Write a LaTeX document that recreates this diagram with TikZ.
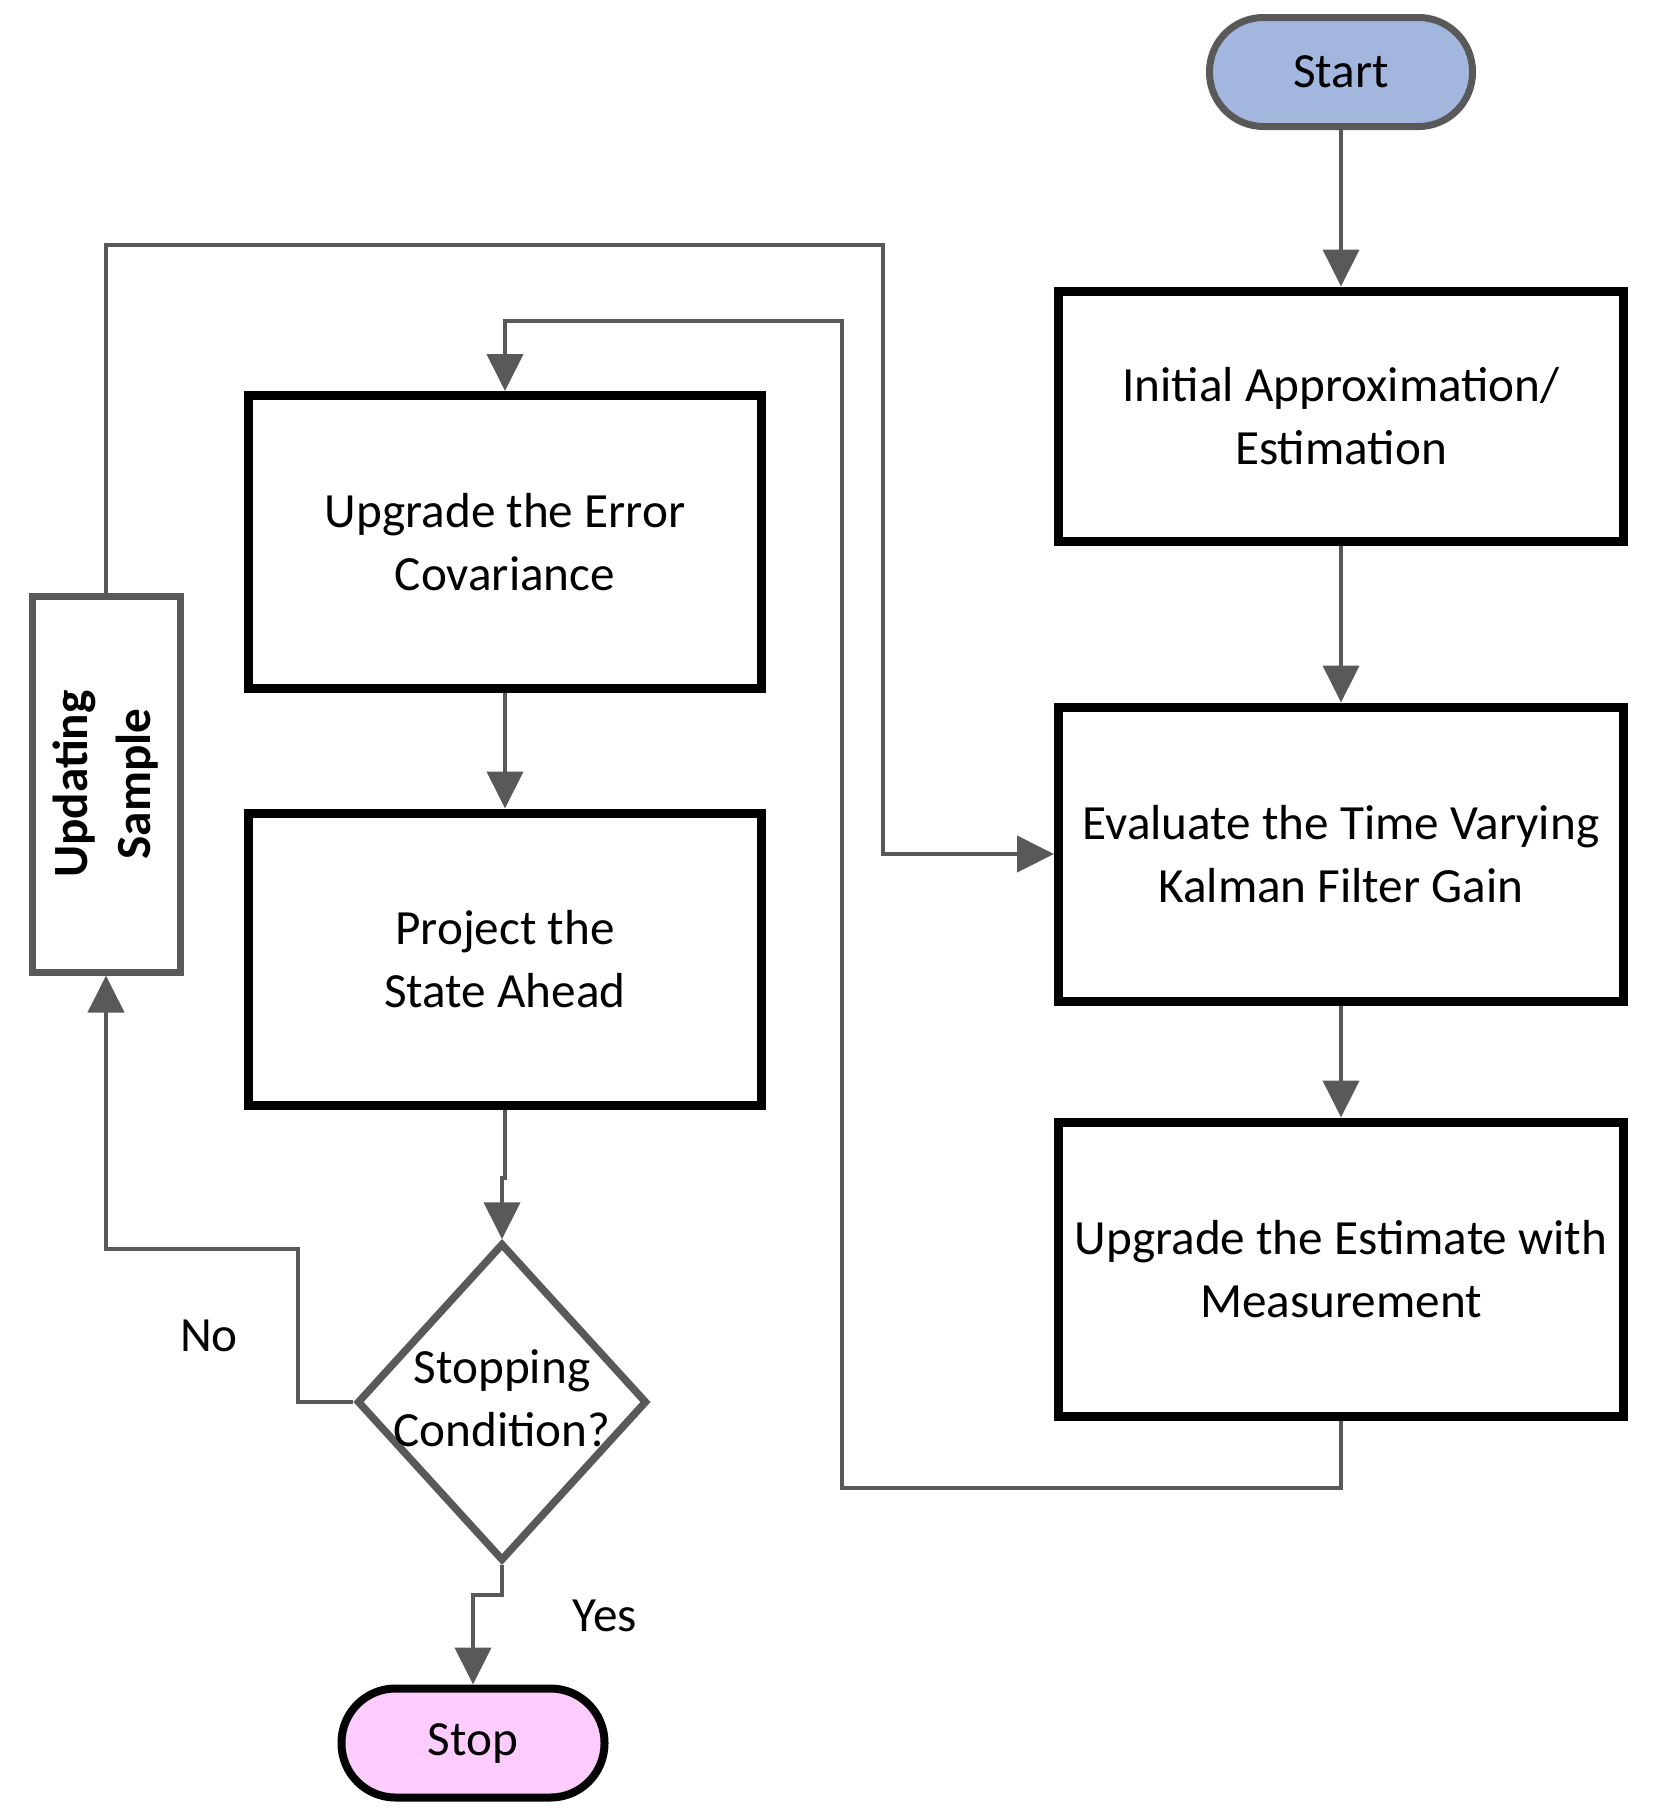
\documentclass[tikz,border=0pt]{standalone}
\usepackage{fontspec}
\setmainfont{Carlito}
\usetikzlibrary{arrows.meta,shapes.geometric}
\definecolor{startblue}{HTML}{A3B7DE}
\definecolor{stoppink}{HTML}{FFCCFF}
\definecolor{linegray}{HTML}{595959}

\begin{document}
\begin{tikzpicture}[x=0.1mm,y=-0.1mm,
        font=\fontsize{14}{18}\selectfont,
        box/.style={draw,line width=0.9mm,align=center,inner sep=0pt},
        term/.style={draw,rounded corners=5.4mm,minimum width=26.3mm,minimum height=10.9mm},
        conn/.style={draw=linegray,line width=0.4mm,-{Triangle[width=3.6mm,length=3.7mm]}}]
            \useasboundingbox (0,0) rectangle (1657,1814);
            % right column
            \node[term,fill=startblue,draw=linegray,line width=0.7mm] (start) at (1341,72) {Start};
            \node[box,minimum width=56.5mm,minimum height=25mm] (init) at (1341,416) {Initial Approximation/\\Estimation};
            \node[box,minimum width=56.5mm,minimum height=29.4mm] (eval) at (1341,854) {Evaluate the Time Varying\\Kalman Filter Gain};
            \node[box,minimum width=56.5mm,minimum height=29.4mm] (meas) at (1341,1269) {Upgrade the Estimate with\\Measurement};
            % left column
            \node[box,minimum width=51.3mm,minimum height=29.3mm] (cov) at (505,542) {Upgrade the Error\\Covariance};
            \node[box,minimum width=51.3mm,minimum height=29.2mm] (proj) at (505,959) {Project the\\State Ahead};
            \node[draw=linegray,line width=0.7mm,minimum width=14.8mm,minimum height=37.6mm,inner sep=0pt,font=\fontsize{14}{18}\selectfont\bfseries] (upd) at (106,784) {\rotatebox{90}{\begin{tabular}{@{}c@{}}Updating\\Sample\end{tabular}}};
            \node[diamond,draw=linegray,line width=0.75mm,minimum width=29mm,minimum height=31.8mm,inner sep=0pt] (cond) at (502,1402) {\makebox[0pt]{\begin{tabular}{@{}c@{}}Stopping\\Condition?\end{tabular}}};
            \node[term,fill=stoppink,line width=0.8mm] (stop) at (473,1743) {Stop};
            \node (no) at (209,1336) {No};
            \node (yes) at (605,1616) {Yes};

            \draw[conn] (start) -- (init);
            \draw[conn] (init) -- (eval);
            \draw[conn] (eval) -- (meas);
            \draw[conn] (meas.south) |- (842,1488) -- (842,321) -| (cov.north);
            \draw[conn] (cov) -- (proj);
            \draw[conn] (proj.south) -- ++(0,68) -| (cond.north);
            \draw[conn] (cond.west) -| (298,1249) -| (upd.south);
            \draw[conn] (cond.south) -- ++(0,30) -| (stop.north);
            \draw[conn] (upd.north) |- (883,245) |- (eval.west);
        \end{tikzpicture}
\end{document}
